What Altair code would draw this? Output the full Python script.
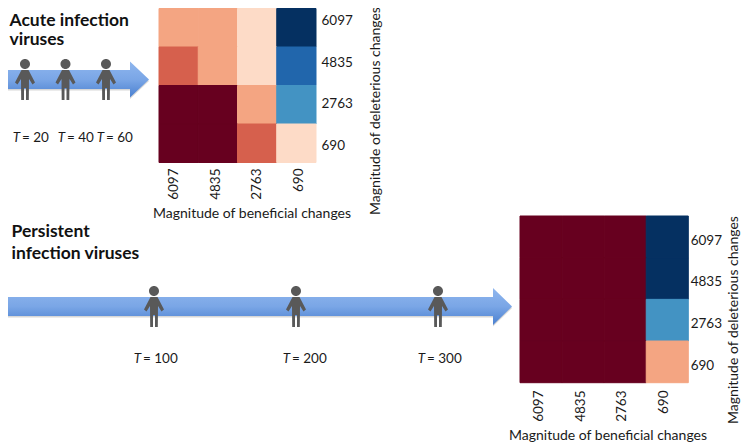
import altair as alt

# --- data ---
magnitudes = ["6097", "4835", "2763", "690"]
acute_rows = [
    ["#f4a582", "#f4a582", "#fddbc7", "#053061"],
    ["#d6604d", "#f4a582", "#fddbc7", "#2166ac"],
    ["#67001f", "#67001f", "#f4a582", "#4393c3"],
    ["#67001f", "#67001f", "#d6604d", "#fddbc7"],
]
persistent_rows = [
    ["#67001f", "#67001f", "#67001f", "#053061"],
    ["#67001f", "#67001f", "#67001f", "#053061"],
    ["#67001f", "#67001f", "#67001f", "#4393c3"],
    ["#67001f", "#67001f", "#67001f", "#f4a582"],
]
acute_times = [20, 40, 60]
persistent_times = [100, 200, 300]
BENEFICIAL = "Magnitude of beneficial changes"
DELETERIOUS = "Magnitude of deleterious changes"

FONT = "Lato"
INK = "#1a1a1a"
BLANK = alt.Data(values=[{}])


def px(v):
    return v - 8


def cells(rows):
    return [
        {"b": b, "d": d, "c": rows[i][j]}
        for i, d in enumerate(magnitudes)
        for j, b in enumerate(magnitudes)
    ]


def heatmap(rows, x0, x1, y0, y1):
    return alt.Chart(alt.Data(values=cells(rows))).mark_rect(strokeWidth=1, opacity=1).encode(
        x=alt.X("b:N", axis=None, scale=alt.Scale(type="band", domain=magnitudes, range=[px(x0), px(x1)], padding=0)),
        y=alt.Y("d:N", axis=None, scale=alt.Scale(type="band", domain=magnitudes, range=[px(y0), px(y1)], padding=0)),
        color=alt.Color("c:N", scale=None, legend=None),
        stroke=alt.Stroke("c:N", scale=None, legend=None),
    )


def tick_labels(lx0, lx1, ly0, ly1, x_at, y_at):
    vals = alt.Data(values=[{"m": m} for m in magnitudes])
    xl = alt.Chart(vals).mark_text(font=FONT, fontSize=13.5, color=INK, angle=270, align="right", baseline="middle").encode(
        x=alt.X("m:N", axis=None, scale=alt.Scale(type="point", domain=magnitudes, range=[px(lx0), px(lx1)], padding=0)),
        y=alt.value(px(y_at)),
        text="m:N",
    )
    yl = alt.Chart(vals).mark_text(font=FONT, fontSize=13.5, color=INK, align="left", baseline="middle").encode(
        y=alt.Y("m:N", axis=None, scale=alt.Scale(type="point", domain=magnitudes, range=[px(ly0), px(ly1)], padding=0)),
        x=alt.value(px(x_at)),
        text="m:N",
    )
    return [xl, yl]


def label(text, x, y, size=14, weight="normal", style="normal", align="center", angle=0, color=INK):
    return alt.Chart(BLANK).mark_text(
        text=text, font=FONT, fontSize=size, fontWeight=weight, fontStyle=style,
        align=align, baseline="alphabetic", angle=angle, color=color,
    ).encode(x=alt.value(px(x)), y=alt.value(px(y)))


def arrow(x0, tip, neck, cy, body, head):
    b, h = body / 2, head / 2
    L, N, T = 0, neck - x0, tip - x0
    path = f"M{L},{-b}L{N},{-b}L{N},{-h}L{T},0L{N},{h}L{N},{b}L{L},{b}Z"
    gradient = alt.LinearGradient(
        gradient="linear", x1=0, y1=0, x2=0, y2=1,
        stops=[
            alt.GradientStop(offset=0, color="#8fb6ee"),
            alt.GradientStop(offset=0.5, color="#7aa6e6"),
            alt.GradientStop(offset=1, color="#4a80d0"),
        ],
    )
    shadow = alt.Chart(BLANK).mark_point(shape=path, size=4, filled=True, fill="#8c8c8c", opacity=0.35, strokeWidth=0).encode(
        x=alt.value(px(x0)), y=alt.value(px(cy + 1.5))
    )
    main = alt.Chart(BLANK).mark_point(shape=path, size=4, filled=True, fill=gradient, opacity=1, strokeWidth=0).encode(
        x=alt.value(px(x0)), y=alt.value(px(cy))
    )
    return [shadow, main]


PERSON = (
    "M-5,0A5,5 0 1 1 5,0A5,5 0 1 1 -5,0Z"
    "M-3.5,6L3.5,6L10,18.5L7.5,20.5L4,15L3.8,36L1,36L1,24L-1,24L-1,36L-3.8,36L-4,15L-7.5,20.5L-10,18.5Z"
)


def people(times, x0, x1, y):
    return alt.Chart(alt.Data(values=[{"t": t} for t in times])).mark_point(
        shape=PERSON, size=4, filled=True, fill="#595959", opacity=1, strokeWidth=0
    ).encode(
        x=alt.X("t:Q", axis=None, scale=alt.Scale(domain=[times[0], times[-1]], range=[px(x0), px(x1)], zero=False)),
        y=alt.value(px(y)),
    )


def time_label(t, xc, y):
    eq = f"= {t}"
    return [
        label("T", xc - 11 if t < 100 else xc - 15, y, size=13.5, style="italic", align="right"),
        label(eq, xc - 9 if t < 100 else xc - 13, y, size=13.5, align="left"),
    ]


layers = []
layers += [
    heatmap(acute_rows, 159, 316, 8.5, 162.5),
    heatmap(persistent_rows, 520, 688.3, 216, 382.7),
]
layers += tick_labels(174, 299, 21, 146, 321.5, 168.5)
layers += tick_labels(539, 664, 240.7, 366, 690.7, 390.5)
layers += arrow(8, 149, 130, 79.5, 19, 36)
layers += arrow(8, 512, 493, 306.5, 19, 37)
layers += [people(acute_times, 25, 106, 64), people(persistent_times, 154, 438, 291)]
for t, xc in zip(acute_times, [31, 76, 115]):
    layers += time_label(t, xc, 142)
for t, xc in zip(persistent_times, [156, 305, 440]):
    layers += time_label(t, xc, 363)
layers += [
    label("Acute infection", 9.5, 25.5, size=17.5, weight="bold", align="left", color="#111111"),
    label("viruses", 9.5, 45, size=17.5, weight="bold", align="left", color="#111111"),
    label("Persistent", 11.5, 237, size=17.5, weight="bold", align="left", color="#111111"),
    label("infection viruses", 11.5, 259, size=17.5, weight="bold", align="left", color="#111111"),
    label(BENEFICIAL, 252, 218),
    label(BENEFICIAL, 608, 439.5),
    label(DELETERIOUS, 380, 111, angle=270),
    label(DELETERIOUS, 738, 320, angle=270),
]

chart = alt.layer(*layers).resolve_scale(x="independent", y="independent").properties(
    width=734, height=436, padding=0, autosize=alt.AutoSizeParams(type="none"), background="white"
).configure_view(stroke=None)

chart.save("out.html", embed_options={"renderer": "svg", "actions": False})
